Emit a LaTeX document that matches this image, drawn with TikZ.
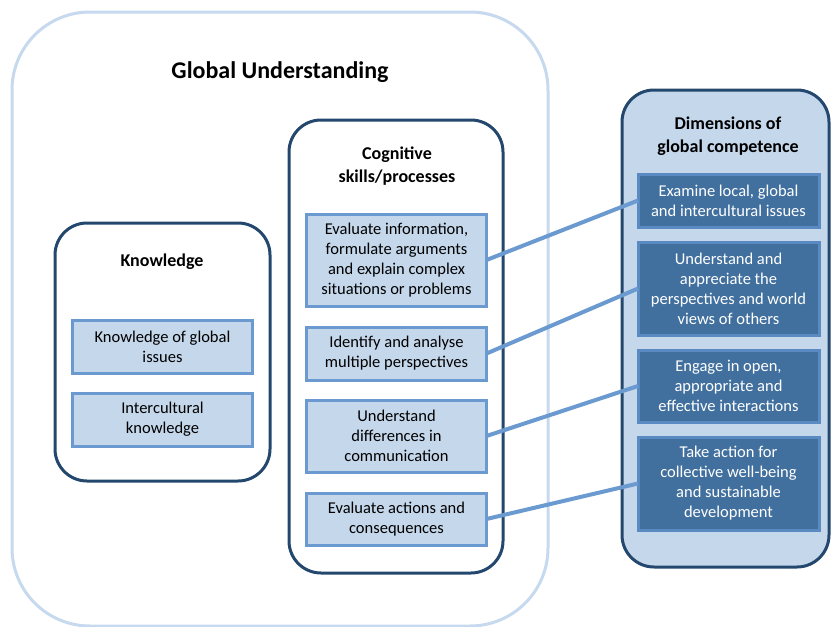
\documentclass[tikz,border=0pt]{standalone}
\usepackage{fontspec}
\setmainfont{Carlito}
\usepackage{xcolor}
\usepackage{tikz}
\usetikzlibrary{
    arrows.meta,
    positioning
}
\definecolor{gcnavy}{HTML}{24476E}
\definecolor{gcpale}{HTML}{C6D9EE}
\definecolor{gcfill}{HTML}{C5D7EB}
\definecolor{gcline}{HTML}{6A9AD0}
\definecolor{gcdark}{HTML}{41709F}
\definecolor{gcdarkline}{HTML}{5A8AC2}
\tikzset{
    % Outer frame
    outerframe/.style={
        rectangle,
        rounded corners=78pt,
        draw=gcpale,
        line width=3pt,
        minimum width=536pt,
        minimum height=614pt,
        inner sep=0pt
    },
    % Group box
    groupbox/.style={
        rectangle,
        rounded corners=32pt,
        draw=gcnavy,
        fill=#1,
        line width=3pt,
        inner sep=0pt
    },
    groupbox/.default=white,
    % Heading text
    headtext/.style={
        font=\fontsize{18}{23}\selectfont\bfseries,
        align=center
    },
    % Skill box
    skillbox/.style={
        rectangle,
        draw=gcline,
        fill=gcfill,
        line width=3pt,
        text=black,
        font=\fontsize{16.5}{20}\selectfont,
        minimum width=180pt,
        align=center,
        inner sep=0pt,
        outer sep=0pt
    },
    % Dimension box
    dimbox/.style={
        rectangle,
        draw=gcdarkline,
        fill=gcdark,
        line width=3pt,
        text=white,
        font=\fontsize{16.5}{20}\selectfont,
        minimum width=181pt,
        align=center,
        inner sep=0pt,
        outer sep=0pt
    },
    % Link line
    linkline/.style={
        draw=gcline,
        line width=4pt
    }
}

\begin{document}
\begin{tikzpicture}[x=1pt, y=-1pt]

    \useasboundingbox (0,0) rectangle (831,627);

    % Outer frame
    \node[outerframe] (global) at (280,319) {};
    \node[headtext, font=\fontsize{24}{28}\selectfont\bfseries] (globaltitle) at (280,72) {Global Understanding};

    % Group boxes
    \node[groupbox, minimum width=215pt, minimum height=258pt] (know) at (162.5,352) {};
    \node[groupbox, minimum width=214pt, minimum height=453pt] (cog) at (396,346.5) {};
    \node[groupbox=gcfill, minimum width=207pt, minimum height=477pt] (dim) at (725.5,328.5) {};

    % Group titles
    \node[headtext] (knowtitle) at (162,262) {Knowledge};
    \node[headtext] (cogtitle) at (397,166) {Cognitive\\skills/processes};
    \node[headtext] (dimtitle) at (728,136) {Dimensions of\\global competence};

    % Knowledge boxes
    \node[skillbox, minimum height=53pt] (K1) at (162.5,346.5) {Knowledge of global\\issues};
    \node[skillbox, minimum height=53pt, below=20pt of K1] (K2) {Intercultural\\knowledge};

    % Cognitive boxes
    \node[skillbox, minimum height=92pt] (E1) at (396.5,260) {Evaluate information,\\formulate arguments\\and explain complex\\situations or problems};
    \node[skillbox, minimum height=53pt, below=21pt of E1] (E2) {Identify and analyse\\multiple perspectives};
    \node[skillbox, minimum height=72pt, below=20pt of E2] (E3) {Understand\\differences in\\communication};
    \node[skillbox, minimum height=52pt, below=21pt of E3] (E4) {Evaluate actions and\\consequences};

    % Dimension boxes
    \node[dimbox, minimum height=53pt] (D1) at (728.5,200.5) {Examine local, global\\and intercultural issues};
    \node[dimbox, minimum height=93pt, below=15pt of D1] (D2) {Understand and\\appreciate the\\perspectives and world\\views of others};
    \node[dimbox, minimum height=72pt, below=15pt of D2] (D3) {Engage in open,\\appropriate and\\effective interactions};
    \node[dimbox, minimum height=93pt, below=15pt of D3] (D4) {Take action for\\collective well-being\\and sustainable\\development};

    % Links
    \draw[linkline] (E1.east) -- (D1.west);
    \draw[linkline] (E2.east) -- (D2.west);
    \draw[linkline] (E3.east) -- (D3.west);
    \draw[linkline] (E4.east) -- (D4.west);

\end{tikzpicture}
\end{document}
